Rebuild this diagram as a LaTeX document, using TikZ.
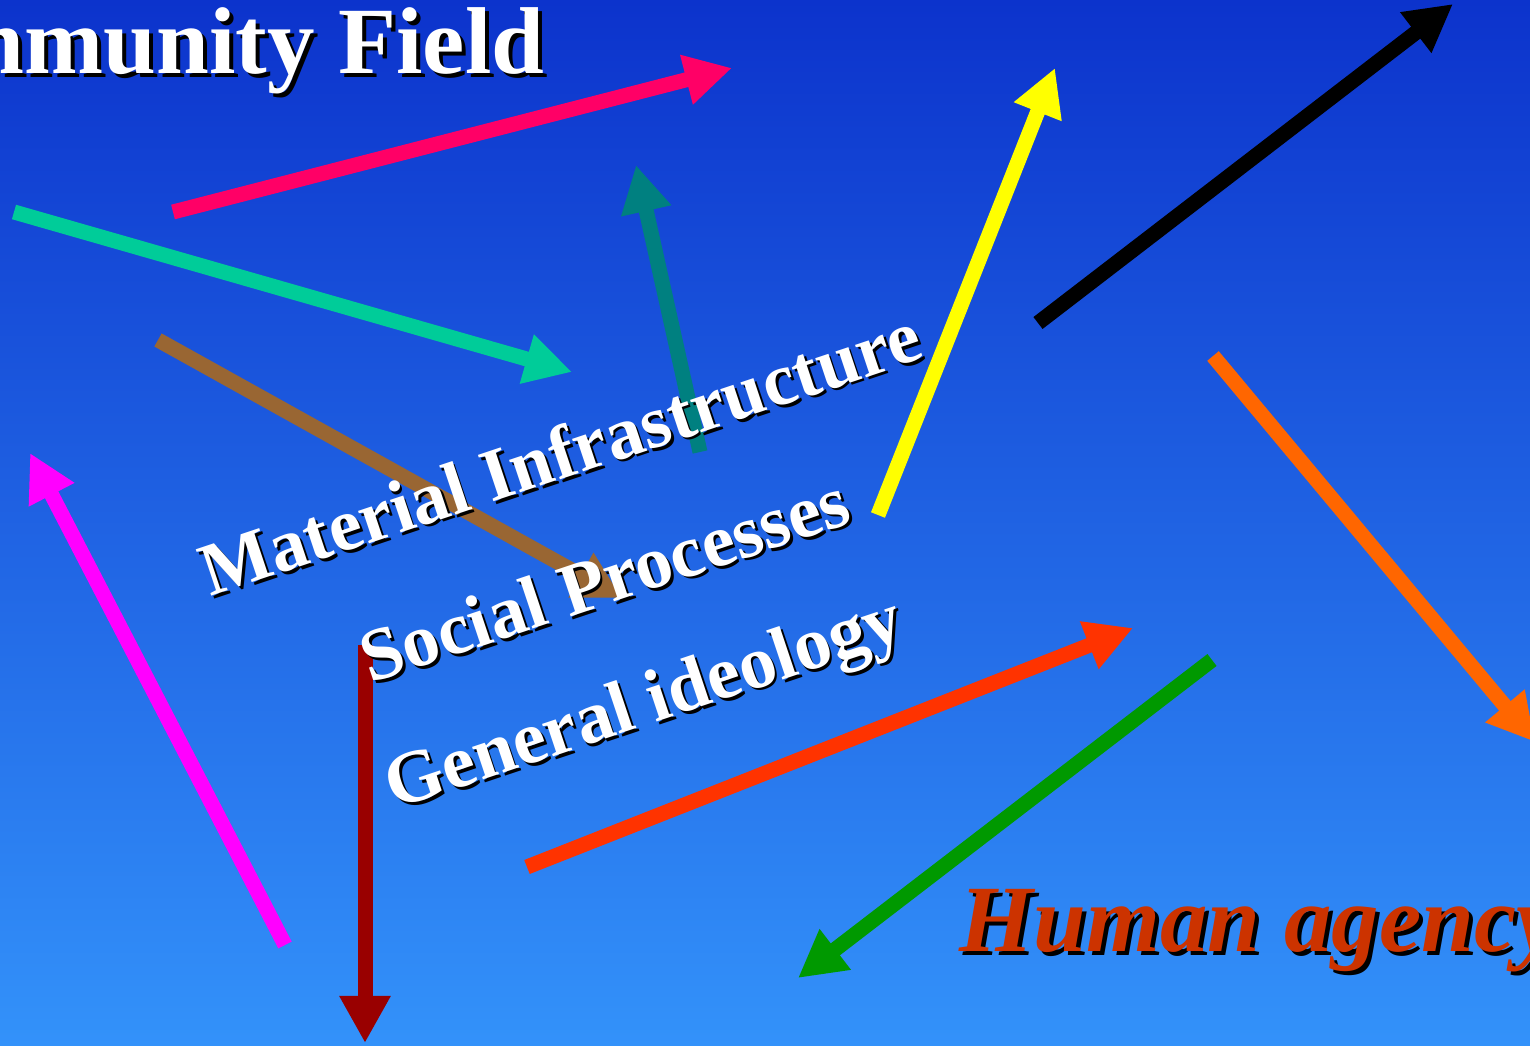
\documentclass[tikz,border=0pt]{standalone}
\usepackage{fontspec}
\setmainfont{Liberation Serif}
\usetikzlibrary{arrows.meta}

\definecolor{bgtop}{RGB}{12,51,204}
\definecolor{bgbottom}{RGB}{51,146,250}
\definecolor{arrpink}{RGB}{255,0,102}
\definecolor{arrmint}{RGB}{0,204,153}
\definecolor{arrteal}{RGB}{0,128,128}
\definecolor{arryellow}{RGB}{255,255,0}
\definecolor{arrorange}{RGB}{255,102,0}
\definecolor{arrbrown}{RGB}{153,102,51}
\definecolor{arrmagenta}{RGB}{255,0,255}
\definecolor{arrdarkred}{RGB}{153,0,0}
\definecolor{arrred}{RGB}{255,51,0}
\definecolor{arrgreen}{RGB}{0,153,0}
\definecolor{agencyred}{RGB}{204,51,0}

\tikzset{
  fat arrow/.style={line width=0.15cm, -{Triangle[length=0.47cm,width=0.48cm]}},
  big title/.style={inner sep=0, font=\fontsize{27}{30}\selectfont\bfseries},
  agency title/.style={inner sep=0, text=agencyred, font=\fontsize{27}{30}\selectfont\bfseries\itshape},
  layer text/.style={inner sep=0, anchor=base west, rotate=18.5, text=white, font=\fontsize{21.2}{24}\selectfont\bfseries},
  text shadow/.style={text=black, xshift=#1, yshift=-#1},
  text shadow/.default=0.028cm
}

\begin{document}
\begin{tikzpicture}[x=0.01cm, y=-0.01cm]
    \useasboundingbox (0,0) rectangle (1530,1046);
    \shade[top color=bgtop, bottom color=bgbottom] (0,0) rectangle (1530,1046);

    % arrow ends
    \coordinate (pink-s) at (173,212);    \coordinate (pink-e) at (732,68);
    \coordinate (mint-s) at (14,212);     \coordinate (mint-e) at (572,372);
    \coordinate (teal-s) at (700,452);    \coordinate (teal-e) at (636,165);
    \coordinate (yellow-s) at (878,515);  \coordinate (yellow-e) at (1055,68);
    \coordinate (black-s) at (1038,323);  \coordinate (black-e) at (1453,4);
    \coordinate (orange-s) at (1213,356); \coordinate (orange-e) at (1535,742);
    \coordinate (brown-s) at (158,340);   \coordinate (brown-e) at (622,598);
    \coordinate (magenta-s) at (285,945); \coordinate (magenta-e) at (30,453);
    \coordinate (darkred-s) at (365,645); \coordinate (darkred-e) at (365,1043);
    \coordinate (red-s) at (527,867);     \coordinate (red-e) at (1133,628);
    \coordinate (green-s) at (1212,660);  \coordinate (green-e) at (798,978);

    \draw[fat arrow, arrpink] (pink-s) -- (pink-e);
    \draw[fat arrow, arrmint] (mint-s) -- (mint-e);
    \draw[fat arrow, arrteal] (teal-s) -- (teal-e);
    \draw[fat arrow, arryellow] (yellow-s) -- (yellow-e);
    \draw[fat arrow, black] (black-s) -- (black-e);
    \draw[fat arrow, arrorange] (orange-s) -- (orange-e);
    \draw[fat arrow, arrbrown] (brown-s) -- (brown-e);
    \draw[fat arrow, arrmagenta] (magenta-s) -- (magenta-e);
    \draw[fat arrow, arrdarkred] (darkred-s) -- (darkred-e);
    \draw[fat arrow, arrred] (red-s) -- (red-e);
    \draw[fat arrow, arrgreen] (green-s) -- (green-e);

    % titles
    \node[big title, anchor=base east, text shadow=0.04cm] (field-sh) at (545,74) {Community Field};
    \node[big title, anchor=base east, text=white] (field) at (545,74) {Community Field};
    \node[agency title, anchor=base west, text shadow=0.04cm, text=black] (agency-sh) at (959,951) {Human agency};
    \node[agency title, anchor=base west] (agency) at (959,951) {Human agency};

    % the three layers
    \node[text shadow, layer text, text=black] (material-sh) at (210,597) {Material Infrastructure};
    \node[layer text] (material) at (210,597) {Material Infrastructure};
    \node[text shadow, layer text, text=black] (social-sh) at (370,684) {Social Processes};
    \node[layer text] (social) at (370,684) {Social Processes};
    \node[text shadow, layer text, text=black] (general-sh) at (394,810) {General ideology};
    \node[layer text] (general) at (394,810) {General ideology};
\end{tikzpicture}
\end{document}
